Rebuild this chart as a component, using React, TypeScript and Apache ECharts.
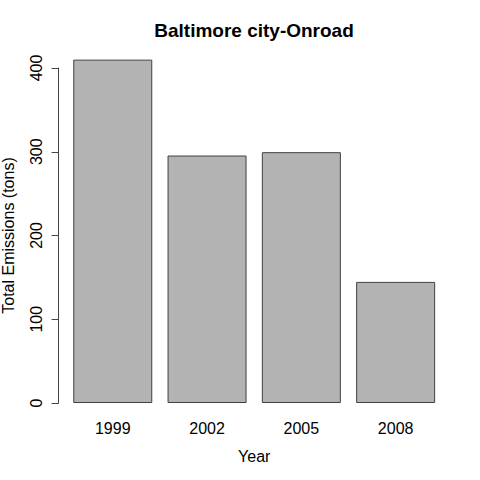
import React, { useEffect, useRef } from "react";
import * as echarts from "echarts";

const years = ["1999", "2002", "2005", "2008"];
const emissions = [410, 295.5, 299.5, 144.6];
const yTicks = { min: 0, max: 400, interval: 100 };
const titleText = "Baltimore city-Onroad";
const xName = "Year";
const yName = "Total Emissions (tons)";

export default function App() {
  const ref = useRef<HTMLDivElement>(null);
  useEffect(() => {
    if (!ref.current) return;
    const chart = echarts.init(ref.current, undefined, { renderer: "svg" });
    const font = "Liberation Sans, Arial, Helvetica, sans-serif";
    chart.setOption({
      animation: false,
      backgroundColor: "#ffffff",
      textStyle: { fontFamily: font },
      title: {
        text: titleText,
        left: 254,
        top: 21,
        padding: 0,
        textAlign: "center",
        textStyle: { fontSize: 19, fontWeight: "bold", color: "#000", fontFamily: font },
      },
      grid: {
        left: 65.6,
        right: 37.2,
        top: 68,
        bottom: 77,
        containLabel: false,
        outerBoundsMode: "none",
      },
      xAxis: {
        type: "category",
        data: years,
        name: xName,
        nameLocation: "middle",
        nameGap: 45,
        nameTextStyle: { fontSize: 16, color: "#000", fontFamily: font },
        axisLine: { show: false },
        axisTick: { show: false },
        axisLabel: { fontSize: 16, color: "#000", margin: 17, fontFamily: font },
      },
      yAxis: {
        type: "value",
        min: yTicks.min,
        max: yTicks.max,
        interval: yTicks.interval,
        offset: 7,
        name: yName,
        nameLocation: "middle",
        nameRotate: 90,
        nameGap: 42,
        nameTextStyle: { fontSize: 16, color: "#000", fontFamily: font },
        axisLine: { show: true, lineStyle: { color: "#444", width: 1 } },
        axisTick: { show: true, length: 7, lineStyle: { color: "#444", width: 1 } },
        axisLabel: { rotate: 90, fontSize: 16, color: "#000", margin: 14, fontFamily: font },
        splitLine: { show: false },
      },
      series: [
        {
          type: "bar",
          data: emissions,
          barWidth: 79,
          clip: false,
          itemStyle: { color: "#b3b3b3", borderColor: "#404040", borderWidth: 1 },
        },
      ],
    });
    return () => chart.dispose();
  }, []);
  return (
    <div
      ref={ref}
      style={{ position: "absolute", left: 0, top: 0, width: 480, height: 480 }}
    />
  );
}
